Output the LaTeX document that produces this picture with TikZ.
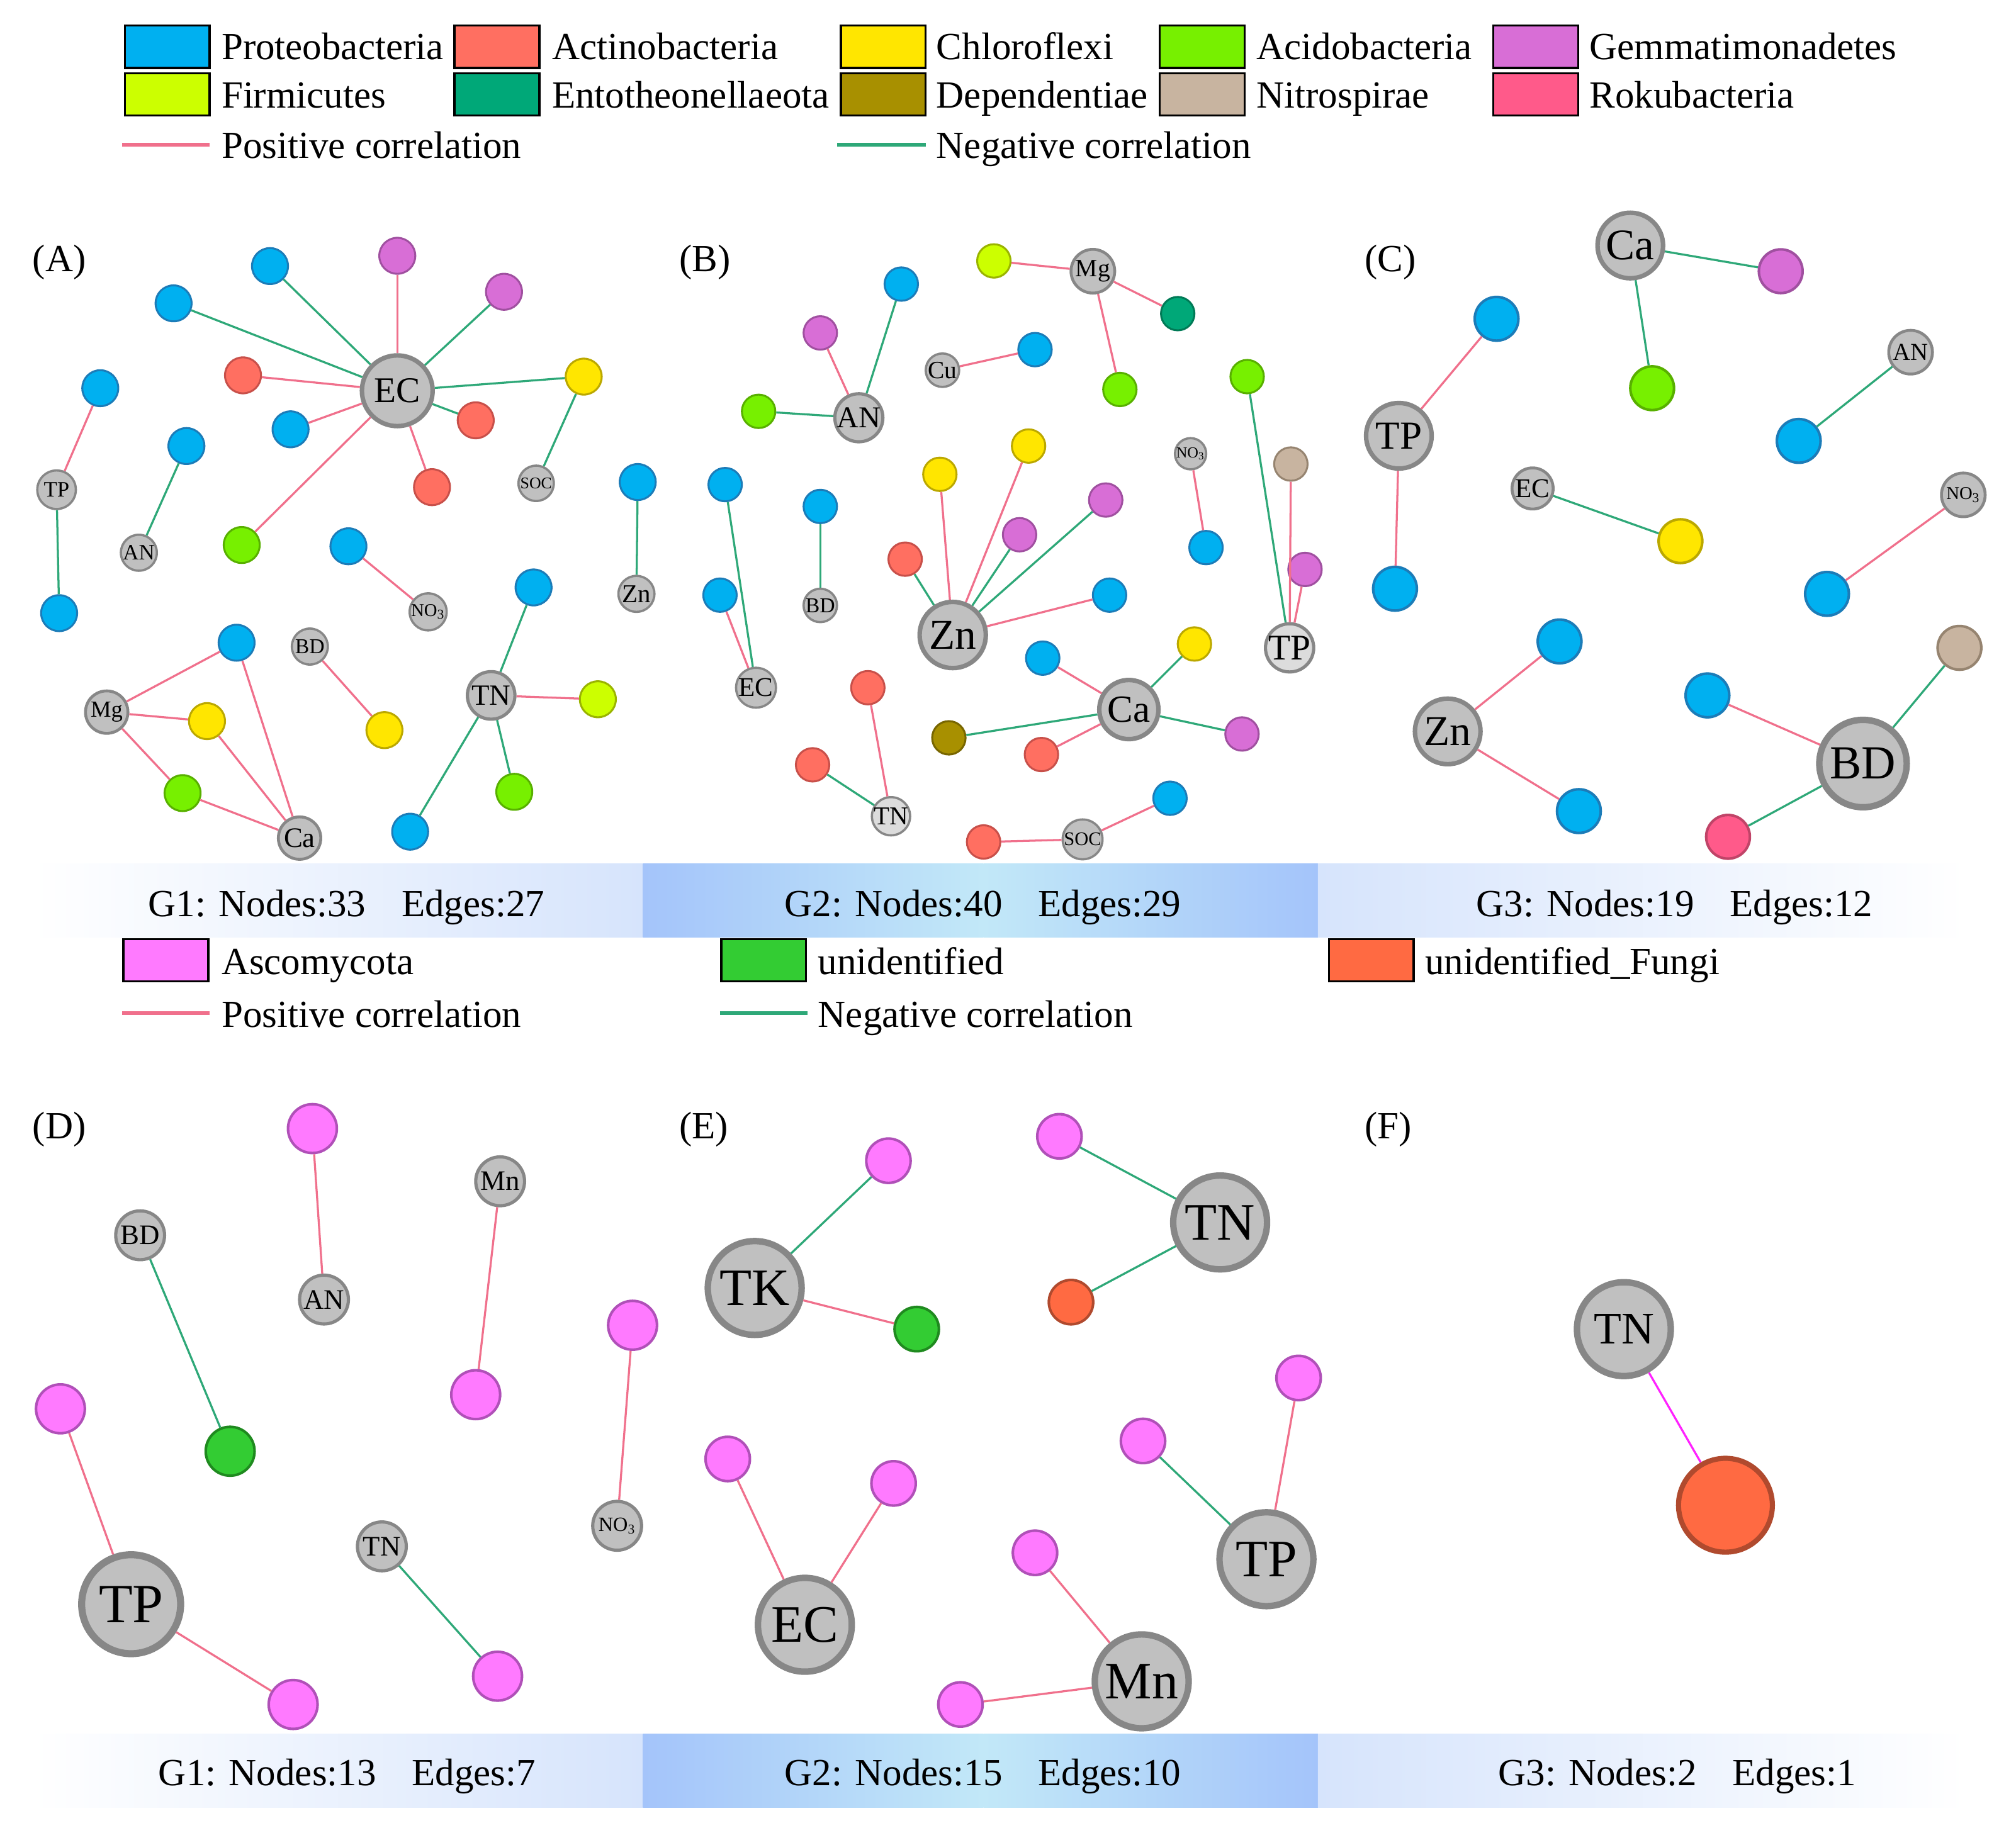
\documentclass[tikz,border=0pt]{standalone}
\usepackage{fontspec}
\setmainfont{Liberation Serif}
\usepackage{tikz}
\definecolor{proF}{HTML}{00B0F0}\definecolor{proD}{HTML}{1C7CB8}
\definecolor{actF}{HTML}{FF6F61}\definecolor{actD}{HTML}{C8504A}
\definecolor{chlF}{HTML}{FFE600}\definecolor{chlD}{HTML}{BBA800}
\definecolor{aciF}{HTML}{77F000}\definecolor{aciD}{HTML}{58B000}
\definecolor{gemF}{HTML}{D86ED6}\definecolor{gemD}{HTML}{A050A0}
\definecolor{firF}{HTML}{CCFF00}\definecolor{firD}{HTML}{9AB400}
\definecolor{entF}{HTML}{00A878}\definecolor{entD}{HTML}{007A56}
\definecolor{depF}{HTML}{A89000}\definecolor{depD}{HTML}{786600}
\definecolor{nitF}{HTML}{C8B4A0}\definecolor{nitD}{HTML}{968470}
\definecolor{rokF}{HTML}{FF5A8A}\definecolor{rokD}{HTML}{C04468}
\definecolor{ascF}{HTML}{FF7AFF}\definecolor{ascD}{HTML}{B050B8}
\definecolor{uniF}{HTML}{33CC33}\definecolor{uniD}{HTML}{1F8A1F}
\definecolor{ufuF}{HTML}{FF6A42}\definecolor{ufuD}{HTML}{B04A2E}
\definecolor{envfill}{HTML}{C0C0C0}
\definecolor{envlight}{HTML}{DCDCDC}
\definecolor{envline}{HTML}{878787}
\definecolor{poscol}{HTML}{F0708C}
\definecolor{negcol}{HTML}{2EA878}
\definecolor{fmag}{HTML}{FF22FF}
\definecolor{bandpale}{HTML}{D6E4FC}
\definecolor{bandblue}{HTML}{A4C4FA}
\definecolor{bandcyan}{HTML}{C2E8F8}
\newcommand{\fsz}[1]{\fontsize{#1}{#1}\selectfont}

\begin{document}
\begin{tikzpicture}[x=0.2mm,y=-0.2mm]
\tikzstyle{tax}=[circle, inner sep=0pt, line width=0.3mm]
\tikzstyle{env}=[circle, inner sep=0pt, fill=envfill, draw=envline, line width=0.35mm, text=black]
\tikzstyle{envlt}=[env, fill=envlight]
\tikzstyle{ebig}=[env, minimum size=14.6mm, line width=1mm, font=\fsz{23.3}]
\tikzstyle{poscor}=[draw=poscol, line width=0.32mm]
\tikzstyle{negcor}=[draw=negcol, line width=0.32mm]
\tikzstyle{proteo}=[tax, fill=proF, draw=proD]
\tikzstyle{actino}=[tax, fill=actF, draw=actD]
\tikzstyle{chloro}=[tax, fill=chlF, draw=chlD]
\tikzstyle{acido}=[tax, fill=aciF, draw=aciD]
\tikzstyle{gemma}=[tax, fill=gemF, draw=gemD]
\tikzstyle{firmi}=[tax, fill=firF, draw=firD]
\tikzstyle{ento}=[tax, fill=entF, draw=entD]
\tikzstyle{depend}=[tax, fill=depF, draw=depD]
\tikzstyle{nitro}=[tax, fill=nitF, draw=nitD]
\tikzstyle{roku}=[tax, fill=rokF, draw=rokD]
\tikzstyle{asco}=[tax, fill=ascF, draw=ascD]
\tikzstyle{unid}=[tax, fill=uniF, draw=uniD]
\tikzstyle{ufungi}=[tax, fill=ufuF, draw=ufuD]
\tikzstyle{sa}=[minimum size=5.6mm]
\tikzstyle{sb}=[minimum size=5.2mm]
\tikzstyle{sc}=[minimum size=6.8mm, line width=0.4mm]
\tikzstyle{sd}=[minimum size=7.6mm, line width=0.4mm]
\tikzstyle{se}=[minimum size=6.9mm, line width=0.4mm]
\tikzstyle{legbox}=[rectangle, draw=black, line width=0.32mm, minimum width=13.2mm, minimum height=6.6mm, inner sep=0pt]
\tikzstyle{legtext}=[anchor=base west, inner sep=0pt, font=\fsz{17}]
\useasboundingbox (0,0) rectangle (1568,1422);

	\node[legbox, fill=proF] (l_1) at (130,36.4) {};
	\node[legtext] (l_1t) at (172,46.5) {Proteobacteria};
	\node[legbox, fill=actF] (l_2) at (386.5,36.4) {};
	\node[legtext] (l_2t) at (429,46.5) {Actinobacteria};
	\node[legbox, fill=chlF] (l_3) at (687,36.4) {};
	\node[legtext] (l_3t) at (728,46.5) {Chloroflexi};
	\node[legbox, fill=aciF] (l_4) at (935,36.4) {};
	\node[legtext] (l_4t) at (977,46.5) {Acidobacteria};
	\node[legbox, fill=gemF] (l_5) at (1194.5,36.4) {};
	\node[legtext] (l_5t) at (1236,46.5) {Gemmatimonadetes};
	\node[legbox, fill=firF] (l_6) at (130,73.5) {};
	\node[legtext] (l_6t) at (172,84) {Firmicutes};
	\node[legbox, fill=entF] (l_7) at (386.5,73.5) {};
	\node[legtext] (l_7t) at (429,84) {Entotheonellaeota};
	\node[legbox, fill=depF] (l_8) at (687,73.5) {};
	\node[legtext] (l_8t) at (728,84) {Dependentiae};
	\node[legbox, fill=nitF] (l_9) at (935,73.5) {};
	\node[legtext] (l_9t) at (977,84) {Nitrospirae};
	\node[legbox, fill=rokF] (l_10) at (1194.5,73.5) {};
	\node[legtext] (l_10t) at (1236,84) {Rokubacteria};
	\coordinate (lp_1) at (95,112.6);
	\coordinate (lp_2) at (163,112.6);
	\coordinate (ln_1) at (651,112.6);
	\coordinate (ln_2) at (720,112.6);
	\draw[poscor, line width=0.55mm] (lp_1) -- (lp_2);
	\draw[negcor, line width=0.55mm] (ln_1) -- (ln_2);
	\node[legtext] (l_pt) at (172,123) {Positive correlation};
	\node[legtext] (l_nt) at (728,123) {Negative correlation};

	\shade[left color=white, right color=bandpale] (25,672) rectangle (500,729);
	\shade[left color=bandblue, right color=bandcyan] (500,672) rectangle (765,729);
	\shade[left color=bandcyan, right color=bandblue] (765,672) rectangle (1025,729);
	\shade[left color=bandpale, right color=white] (1025,672) rectangle (1530,729);
	\node[legtext] (g_1) at (115,713) {G1: Nodes:33\hspace{0.93em}Edges:27};
	\node[legtext] (g_2) at (610,713) {G2: Nodes:40\hspace{0.93em}Edges:29};
	\node[legtext] (g_3) at (1148,713) {G3: Nodes:19\hspace{0.93em}Edges:12};

	\node[legbox, fill=ascF] (l_11) at (129,747) {};
	\node[legtext] (l_11t) at (172,758) {Ascomycota};
	\node[legbox, fill=uniF] (l_12) at (594,747) {};
	\node[legtext] (l_12t) at (636,758) {unidentified};
	\node[legbox, fill=ufuF] (l_13) at (1066.5,747) {};
	\node[legtext] (l_13t) at (1108,758) {unidentified\_Fungi};
	\coordinate (lp_3) at (95,788);
	\coordinate (lp_4) at (163,788);
	\coordinate (ln_3) at (560,788);
	\coordinate (ln_4) at (628,788);
	\draw[poscor, line width=0.55mm] (lp_3) -- (lp_4);
	\draw[negcor, line width=0.55mm] (ln_3) -- (ln_4);
	\node[legtext] (l_p2t) at (172,799) {Positive correlation};
	\node[legtext] (l_n2t) at (636,799) {Negative correlation};

	\shade[left color=white, right color=bandpale] (25,1349) rectangle (500,1406);
	\shade[left color=bandblue, right color=bandcyan] (500,1349) rectangle (765,1406);
	\shade[left color=bandcyan, right color=bandblue] (765,1349) rectangle (1025,1406);
	\shade[left color=bandpale, right color=white] (1025,1349) rectangle (1530,1406);
	\node[legtext] (g_4) at (123,1389) {G1: Nodes:13\hspace{0.93em}Edges:7};
	\node[legtext] (g_5) at (610,1389) {G2: Nodes:15\hspace{0.93em}Edges:10};
	\node[legtext] (g_6) at (1165,1389) {G3: Nodes:2\hspace{0.93em}Edges:1};

	\node[legtext] (p_a) at (25,211) {(A)};
	\node[legtext] (p_b) at (528,211) {(B)};
	\node[legtext] (p_c) at (1061,211) {(C)};
	\node[legtext] (p_d) at (25,886) {(D)};
	\node[legtext] (p_e) at (528,886) {(E)};
	\node[legtext] (p_f) at (1061,886) {(F)};

	\node[env, minimum size=11mm, line width=0.7mm, font=\fsz{16}] (a_ec) at (309,304) {EC};
	\node[proteo, sa] (a_1) at (210,207) {};
	\node[gemma, sa] (a_2) at (309,199) {};
	\node[gemma, sa] (a_3) at (392,227) {};
	\node[proteo, sa] (a_4) at (135,236) {};
	\node[actino, sa] (a_5) at (189,292) {};
	\node[chloro, sa] (a_6) at (454,293) {};
	\node[proteo, sa] (a_7) at (226,334) {};
	\node[actino, sa] (a_8) at (370,327) {};
	\node[actino, sa] (a_9) at (336,379) {};
	\node[acido, sa] (a_10) at (188,424) {};
	\node[env, minimum size=5.5mm, font=\fsz{7.2}] (a_soc) at (417,376) {SOC};
	\node[proteo, sa] (a_11) at (78,302) {};
	\node[env, minimum size=6mm, font=\fsz{9.7}] (a_tp) at (44,381) {TP};
	\node[proteo, sa] (a_12) at (46,477) {};
	\node[proteo, sa] (a_13) at (145,347) {};
	\node[env, minimum size=5.6mm, font=\fsz{9.7}] (a_an) at (108,430) {AN};
	\node[proteo, sa] (a_14) at (271,425) {};
	\node[env, minimum size=5.6mm, font=\fsz{8}] (a_no) at (333,476) {NO\textsubscript{3}};
	\node[proteo, sa] (a_15) at (496,375) {};
	\node[env, minimum size=5.6mm, font=\fsz{11.4}] (a_zn) at (495,462) {Zn};
	\node[proteo, sa] (a_16) at (415,457) {};
	\node[env, minimum size=7.4mm, line width=0.5mm, font=\fsz{13}] (a_tn) at (382,541) {TN};
	\node[firmi, sa] (a_17) at (465,544) {};
	\node[acido, sa] (a_18) at (400,616) {};
	\node[proteo, sa] (a_19) at (319,647) {};
	\node[proteo, sa] (a_20) at (184,500) {};
	\node[env, minimum size=5.6mm, font=\fsz{9.4}] (a_bd) at (241,503) {BD};
	\node[chloro, sa] (a_21) at (299,568) {};
	\node[env, minimum size=6.6mm, line width=0.45mm, font=\fsz{10.2}] (a_mg) at (83,554) {Mg};
	\node[chloro, sa] (a_22) at (161,561) {};
	\node[acido, sa] (a_23) at (142,617) {};
	\node[env, minimum size=6.6mm, line width=0.45mm, font=\fsz{12.5}] (a_ca) at (233,652) {Ca};
	\path
		(a_ec) edge [negcor] (a_1)
		(a_ec) edge [poscor] (a_2)
		(a_ec) edge [negcor] (a_3)
		(a_ec) edge [negcor] (a_4)
		(a_ec) edge [poscor] (a_5)
		(a_ec) edge [negcor] (a_6)
		(a_ec) edge [poscor] (a_7)
		(a_ec) edge [negcor] (a_8)
		(a_ec) edge [poscor] (a_9)
		(a_ec) edge [poscor] (a_10)
		(a_6) edge [negcor] (a_soc)
		(a_tp) edge [poscor] (a_11)
		(a_tp) edge [negcor] (a_12)
		(a_an) edge [negcor] (a_13)
		(a_no) edge [poscor] (a_14)
		(a_zn) edge [negcor] (a_15)
		(a_tn) edge [negcor] (a_16)
		(a_tn) edge [poscor] (a_17)
		(a_tn) edge [negcor] (a_18)
		(a_tn) edge [negcor] (a_19)
		(a_bd) edge [poscor] (a_21)
		(a_mg) edge [poscor] (a_20)
		(a_mg) edge [poscor] (a_22)
		(a_mg) edge [poscor] (a_23)
		(a_ca) edge [poscor] (a_20)
		(a_ca) edge [poscor] (a_22)
		(a_ca) edge [poscor] (a_23);

	\node[firmi, sb] (b_1) at (773,203) {};
	\node[env, minimum size=6.8mm, line width=0.45mm, font=\fsz{11}] (b_mg) at (850,211) {Mg};
	\node[ento, sb] (b_2) at (916,244) {};
	\node[acido, sb] (b_3) at (871,303) {};
	\node[proteo, sb] (b_4) at (701,221) {};
	\node[gemma, sb] (b_5) at (638,259) {};
	\node[env, minimum size=6.8mm, line width=0.5mm, font=\fsz{13.4}] (b_an) at (668,325) {AN};
	\node[acido, sb] (b_6) at (590,320) {};
	\node[env, minimum size=5.2mm, font=\fsz{11}] (b_cu) at (733,288) {Cu};
	\node[proteo, sb] (b_7) at (805,272) {};
	\node[acido, sb] (b_8) at (970,293) {};
	\node[nitro, sb] (b_9) at (1004,361) {};
	\node[gemma, sb] (b_10) at (1015,443) {};
	\node[envlt, minimum size=7.2mm, line width=0.5mm, font=\fsz{16}] (b_tp) at (1003,504) {TP};
	\node[env, minimum size=4.8mm, font=\fsz{6.8}] (b_no) at (926,353) {NO\textsubscript{3}};
	\node[proteo, sb] (b_11) at (938,426) {};
	\node[chloro, sb] (b_12) at (800,347) {};
	\node[chloro, sb] (b_13) at (731,369) {};
	\node[gemma, sb] (b_14) at (860,389) {};
	\node[gemma, sb] (b_15) at (793,416) {};
	\node[actino, sb] (b_16) at (704,435) {};
	\node[proteo, sb] (b_17) at (863,463) {};
	\node[env, minimum size=10.3mm, line width=0.7mm, font=\fsz{18.8}] (b_zn) at (741,494) {Zn};
	\node[proteo, sb] (b_18) at (564,377) {};
	\node[proteo, sb] (b_19) at (560,463) {};
	\node[env, minimum size=6.2mm, font=\fsz{12}] (b_ec) at (588,535) {EC};
	\node[proteo, sb] (b_20) at (638,394) {};
	\node[env, minimum size=5.2mm, font=\fsz{9.4}] (b_bd) at (638,471) {BD};
	\node[chloro, sb] (b_21) at (929,501) {};
	\node[proteo, sb] (b_22) at (811,512) {};
	\node[env, minimum size=9.2mm, line width=0.7mm, font=\fsz{17}] (b_ca) at (878,552) {Ca};
	\node[gemma, sb] (b_23) at (966,571) {};
	\node[depend, sb] (b_24) at (738,574) {};
	\node[actino, sb] (b_25) at (810,587) {};
	\node[actino, sb] (b_26) at (675,535) {};
	\node[actino, sb] (b_27) at (632,595) {};
	\node[envlt, minimum size=5.8mm, font=\fsz{11.4}] (b_tn) at (693,635) {TN};
	\node[proteo, sb] (b_28) at (910,621) {};
	\node[env, minimum size=6.2mm, font=\fsz{8.5}] (b_soc) at (842,653) {SOC};
	\node[actino, sb] (b_29) at (765,655) {};
	\path
		(b_mg) edge [poscor] (b_1)
		(b_mg) edge [poscor] (b_2)
		(b_mg) edge [poscor] (b_3)
		(b_an) edge [negcor] (b_4)
		(b_an) edge [poscor] (b_5)
		(b_an) edge [negcor] (b_6)
		(b_cu) edge [poscor] (b_7)
		(b_tp) edge [negcor] (b_8)
		(b_tp) edge [poscor] (b_9)
		(b_tp) edge [poscor] (b_10)
		(b_no) edge [poscor] (b_11)
		(b_zn) edge [poscor] (b_12)
		(b_zn) edge [poscor] (b_13)
		(b_zn) edge [negcor] (b_14)
		(b_zn) edge [negcor] (b_15)
		(b_zn) edge [negcor] (b_16)
		(b_zn) edge [poscor] (b_17)
		(b_ec) edge [negcor] (b_18)
		(b_ec) edge [poscor] (b_19)
		(b_bd) edge [negcor] (b_20)
		(b_ca) edge [negcor] (b_21)
		(b_ca) edge [poscor] (b_22)
		(b_ca) edge [negcor] (b_23)
		(b_ca) edge [negcor] (b_24)
		(b_ca) edge [poscor] (b_25)
		(b_tn) edge [poscor] (b_26)
		(b_tn) edge [negcor] (b_27)
		(b_soc) edge [poscor] (b_28)
		(b_soc) edge [poscor] (b_29);

	\node[env, minimum size=10.2mm, line width=0.7mm, font=\fsz{19.3}] (c_ca) at (1268,191) {Ca};
	\node[gemma, sc] (c_1) at (1385,211) {};
	\node[acido, sc] (c_2) at (1285,302) {};
	\node[proteo, sc] (c_3) at (1164,248) {};
	\node[env, minimum size=10.2mm, line width=0.7mm, font=\fsz{17.6}] (c_tp) at (1088,339) {TP};
	\node[proteo, sc] (c_4) at (1085,458) {};
	\node[env, minimum size=6.8mm, line width=0.45mm, font=\fsz{10.8}] (c_an) at (1486,274) {AN};
	\node[proteo, sc] (c_5) at (1399,343) {};
	\node[env, minimum size=6.4mm, line width=0.45mm, font=\fsz{12}] (c_ec) at (1192,380) {EC};
	\node[chloro, sc] (c_6) at (1307,421) {};
	\node[env, minimum size=6.8mm, line width=0.45mm, font=\fsz{8}] (c_no) at (1527,385) {NO\textsubscript{3}};
	\node[proteo, sc] (c_7) at (1421,462) {};
	\node[proteo, sc] (c_8) at (1213,499) {};
	\node[env, minimum size=10.2mm, line width=0.7mm, font=\fsz{18.8}] (c_zn) at (1126,569) {Zn};
	\node[proteo, sc] (c_9) at (1228,631) {};
	\node[proteo, sc] (c_10) at (1328,541) {};
	\node[nitro, sc] (c_11) at (1524,504) {};
	\node[env, minimum size=13.6mm, line width=1mm, font=\fsz{21}] (c_bd) at (1449,594) {BD};
	\node[roku, sc] (c_12) at (1344,651) {};
	\path
		(c_ca) edge [negcor] (c_1)
		(c_ca) edge [negcor] (c_2)
		(c_tp) edge [poscor] (c_3)
		(c_tp) edge [poscor] (c_4)
		(c_an) edge [negcor] (c_5)
		(c_ec) edge [negcor] (c_6)
		(c_no) edge [poscor] (c_7)
		(c_zn) edge [poscor] (c_8)
		(c_zn) edge [poscor] (c_9)
		(c_bd) edge [poscor] (c_10)
		(c_bd) edge [negcor] (c_11)
		(c_bd) edge [negcor] (c_12);

	\node[asco, sd] (d_1) at (243,878) {};
	\node[env, minimum size=7.6mm, line width=0.5mm, font=\fsz{12.5}] (d_an) at (252,1011) {AN};
	\node[env, minimum size=7.6mm, line width=0.5mm, font=\fsz{12.5}] (d_mn) at (389,919) {Mn};
	\node[asco, sd] (d_2) at (370,1085) {};
	\node[env, minimum size=7.6mm, line width=0.5mm, font=\fsz{12.5}] (d_bd) at (109,961) {BD};
	\node[unid, sd] (d_3) at (179,1129) {};
	\node[asco, sd] (d_4) at (47,1096) {};
	\node[env, minimum size=15.4mm, line width=1.1mm, font=\fsz{24.5}] (d_tp) at (102,1248) {TP};
	\node[asco, sd] (d_5) at (228,1326) {};
	\node[env, minimum size=7.6mm, line width=0.5mm, font=\fsz{12.5}] (d_tn) at (297,1203) {TN};
	\node[asco, sd] (d_6) at (387,1304) {};
	\node[asco, sd] (d_7) at (492,1031) {};
	\node[env, minimum size=7.6mm, line width=0.5mm, font=\fsz{9}] (d_no) at (480,1187) {NO\textsubscript{3}};
	\path
		(d_an) edge [poscor] (d_1)
		(d_mn) edge [poscor] (d_2)
		(d_bd) edge [negcor] (d_3)
		(d_tp) edge [poscor] (d_4)
		(d_tp) edge [poscor] (d_5)
		(d_tn) edge [negcor] (d_6)
		(d_no) edge [poscor] (d_7);

	\node[asco, se] (e_1) at (691,903) {};
	\node[ebig] (e_tk) at (587,1002) {TK};
	\node[unid, se] (e_2) at (713,1034) {};
	\node[asco, se] (e_3) at (824,884) {};
	\node[ebig] (e_tn) at (949,951) {TN};
	\node[ufungi, se] (e_4) at (833,1013) {};
	\node[asco, se] (e_5) at (1010,1072) {};
	\node[asco, se] (e_6) at (889,1121) {};
	\node[ebig] (e_tp) at (985,1213) {TP};
	\node[asco, se] (e_7) at (566,1135) {};
	\node[asco, se] (e_8) at (695,1154) {};
	\node[ebig] (e_ec) at (626,1264) {EC};
	\node[asco, se] (e_9) at (805,1208) {};
	\node[ebig] (e_mn) at (888,1308) {Mn};
	\node[asco, se] (e_10) at (747,1326) {};
	\path
		(e_tk) edge [negcor] (e_1)
		(e_tk) edge [poscor] (e_2)
		(e_tn) edge [negcor] (e_3)
		(e_tn) edge [negcor] (e_4)
		(e_tp) edge [poscor] (e_5)
		(e_tp) edge [negcor] (e_6)
		(e_ec) edge [poscor] (e_7)
		(e_ec) edge [poscor] (e_8)
		(e_mn) edge [poscor] (e_9)
		(e_mn) edge [poscor] (e_10);

	\node[ebig, font=\fsz{20}] (f_tn) at (1263,1034) {TN};
	\node[ufungi, minimum size=14.6mm, line width=0.8mm] (f_1) at (1342,1171) {};
	\path
		(f_tn) edge [draw=fmag, line width=0.32mm] (f_1);
\end{tikzpicture}
\end{document}
